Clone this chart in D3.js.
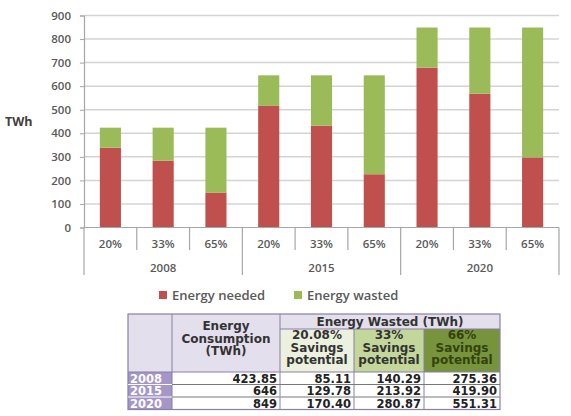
<!DOCTYPE html>
<html>
<head>
<meta charset="utf-8">
<script src="https://cdn.jsdelivr.net/npm/d3@7"></script>
<style>
  body { margin: 0; background: #fff; }
  svg { display: block; }
</style>
</head>
<body>
<svg id="chart" width="571" height="416"></svg>
<script>
// data
const years = ['2008', '2015', '2020'];
const scenarios = ['20%', '33%', '65%'];
const consumption = [423.85, 646, 849];
const wasted20 = [85.11, 129.78, 170.40];
const wasted33 = [140.29, 213.92, 280.87];
const wasted65 = [275.36, 419.90, 551.31];
const savingsHeaders = ['20.08%', '33%', '66%'];
const yTicks = [0, 100, 200, 300, 400, 500, 600, 700, 800, 900];

const red = '#c0504d';
const green = '#9bbb59';
const axisGrey = '#a6a6a6';
const textGrey = '#595959';
const chartFont = "'Open Sans', sans-serif";
const tableFont = "'DejaVu Sans', sans-serif";

const svg = d3.select('#chart');

// flatten into one bar per year/scenario
const wastedBy = [wasted20, wasted33, wasted65];
const bars = [];
years.forEach((yr, i) => {
    scenarios.forEach((sc, j) => {
        const w = wastedBy[j][i];
        bars.push({ key: yr + '_' + sc, year: yr, scenario: sc, needed: consumption[i] - w, wasted: w });
    });
});

const x = d3.scaleBand()
    .domain(bars.map(d => d.key))
    .range([84, 559])
    .paddingInner(0.6)
    .paddingOuter(0.3);

const y = d3.scaleLinear()
    .domain([0, 900])
    .range([227.5, 15.5]);

// gridlines
svg.append('g')
    .selectAll('line')
    .data(yTicks.slice(1))
    .join('line')
    .attr('x1', 84)
    .attr('x2', 559)
    .attr('y1', d => y(d))
    .attr('y2', d => y(d))
    .attr('stroke', '#d4d4d4')
    .attr('stroke-width', 1.5);

// y axis
const yAxis = svg.append('g')
    .attr('transform', 'translate(84,0)')
    .call(d3.axisLeft(y).tickValues(yTicks).tickSize(4).tickPadding(9));
yAxis.select('.domain').attr('stroke', axisGrey).attr('stroke-width', 1.2);
yAxis.selectAll('.tick line').attr('stroke', axisGrey);
yAxis.selectAll('text')
    .attr('fill', textGrey)
    .style('font-family', chartFont)
    .style('font-size', '11.5px')
    .style('font-weight', 600);

svg.append('text')
    .attr('x', 5)
    .attr('y', 126)
    .attr('fill', '#404040')
    .style('font-family', chartFont)
    .style('font-size', '12.5px')
    .style('font-weight', 700)
    .text('TWh');

// stacked bars
const barG = svg.append('g');
barG.selectAll('rect.needed')
    .data(bars)
    .join('rect')
    .attr('class', 'needed')
    .attr('x', d => x(d.key))
    .attr('width', x.bandwidth())
    .attr('y', d => y(d.needed))
    .attr('height', d => y(0) - y(d.needed))
    .attr('fill', red);
barG.selectAll('rect.wasted')
    .data(bars)
    .join('rect')
    .attr('class', 'wasted')
    .attr('x', d => x(d.key))
    .attr('width', x.bandwidth())
    .attr('y', d => y(d.needed + d.wasted))
    .attr('height', d => y(d.needed) - y(d.needed + d.wasted))
    .attr('fill', green);

// category axis
const step = x.step();
const x0 = 84;
const base = y(0);
svg.append('line')
    .attr('x1', x0).attr('x2', 559)
    .attr('y1', base).attr('y2', base)
    .attr('stroke', axisGrey).attr('stroke-width', 1.2);

const seps = d3.range(bars.length + 1);
svg.append('g')
    .selectAll('line')
    .data(seps)
    .join('line')
    .attr('x1', i => x0 + i * step)
    .attr('x2', i => x0 + i * step)
    .attr('y1', base)
    .attr('y2', i => (i % 3 === 0) ? 275 : 250)
    .attr('stroke', axisGrey)
    .attr('stroke-width', 1.2);

svg.append('g')
    .selectAll('text')
    .data(bars)
    .join('text')
    .attr('x', d => x(d.key) + x.bandwidth() / 2)
    .attr('y', 248)
    .attr('text-anchor', 'middle')
    .attr('fill', textGrey)
    .style('font-family', chartFont)
    .style('font-size', '11.5px')
    .style('font-weight', 600)
    .text(d => d.scenario);

svg.append('g')
    .selectAll('text')
    .data(years)
    .join('text')
    .attr('x', (d, i) => x0 + (i * 3 + 1.5) * step)
    .attr('y', 272)
    .attr('text-anchor', 'middle')
    .attr('fill', textGrey)
    .style('font-family', chartFont)
    .style('font-size', '11.5px')
    .style('font-weight', 600)
    .text(d => d);

// legend
const legend = [
    { label: 'Energy needed', color: red, x: 159 },
    { label: 'Energy wasted', color: green, x: 294 }
];
const lg = svg.append('g').selectAll('g')
    .data(legend)
    .join('g')
    .attr('transform', d => `translate(${d.x},295)`);
lg.append('rect')
    .attr('x', 0).attr('y', -4)
    .attr('width', 8).attr('height', 8)
    .attr('fill', d => d.color);
lg.append('text')
    .attr('x', 13)
    .attr('y', 4.5)
    .attr('fill', textGrey)
    .style('font-family', chartFont)
    .style('font-size', '13px')
    .style('font-weight', 600)
    .text(d => d.label);

// table
const cols = [128, 172, 280, 354, 424, 500];
const rows = [314, 329, 372, 384.5, 397, 409.5];
const tbl = svg.append('g');
const lavender = '#e4dfec';
const purple = '#a496c6';
const headFills = ['#ebf1de', '#c4d79b', '#77933c'];

// header block
tbl.append('rect')
    .attr('x', cols[0]).attr('y', rows[0])
    .attr('width', cols[5] - cols[0]).attr('height', rows[2] - rows[0])
    .attr('fill', lavender);
tbl.selectAll('rect.sav')
    .data(savingsHeaders)
    .join('rect')
    .attr('class', 'sav')
    .attr('x', (d, i) => cols[i + 2]).attr('y', rows[1])
    .attr('width', (d, i) => cols[i + 3] - cols[i + 2]).attr('height', rows[2] - rows[1])
    .attr('fill', (d, i) => headFills[i]);
// year column
tbl.append('rect')
    .attr('x', cols[0]).attr('y', rows[2])
    .attr('width', cols[1] - cols[0]).attr('height', rows[5] - rows[2])
    .attr('fill', purple);

// grid lines of the table
const borderCol = '#8a7fa6';
tbl.append('rect')
    .attr('x', cols[0]).attr('y', rows[0])
    .attr('width', cols[5] - cols[0]).attr('height', rows[5] - rows[0])
    .attr('fill', 'none').attr('stroke', borderCol).attr('stroke-width', 1.2);
[1, 2].forEach(c => {
    tbl.append('line')
        .attr('x1', cols[c]).attr('x2', cols[c])
        .attr('y1', rows[0]).attr('y2', rows[5])
        .attr('stroke', borderCol).attr('stroke-width', 1);
});
[3, 4].forEach(c => {
    tbl.append('line')
        .attr('x1', cols[c]).attr('x2', cols[c])
        .attr('y1', rows[1]).attr('y2', rows[5])
        .attr('stroke', borderCol).attr('stroke-width', 1);
});
tbl.append('line')
    .attr('x1', cols[2]).attr('x2', cols[5])
    .attr('y1', rows[1]).attr('y2', rows[1])
    .attr('stroke', borderCol);
[2, 3, 4].forEach(r => {
    tbl.append('line')
        .attr('x1', cols[0]).attr('x2', cols[5])
        .attr('y1', rows[r]).attr('y2', rows[r])
        .attr('stroke', r === 2 ? borderCol : '#ffffff')
        .attr('stroke-width', 1);
    if (r > 2) {
        tbl.append('line')
            .attr('x1', cols[1]).attr('x2', cols[5])
            .attr('y1', rows[r]).attr('y2', rows[r])
            .attr('stroke', '#555').attr('stroke-width', 0.8);
    }
});

function cellText(txt, cx, cy, anchor, color, size) {
    tbl.append('text')
        .attr('x', cx).attr('y', cy)
        .attr('text-anchor', anchor)
        .attr('dominant-baseline', 'central')
        .attr('fill', color)
        .style('font-family', tableFont)
        .style('font-size', size + 'px')
        .style('font-weight', 700)
        .text(txt);
}

cellText('Energy Wasted (TWh)', (cols[2] + cols[5]) / 2, (rows[0] + rows[1]) / 2 + 0.5, 'middle', '#333', 12);
['Energy', 'Consumption', '(TWh)'].forEach((t, i) => {
    cellText(t, (cols[1] + cols[2]) / 2, 326 + i * 12.5, 'middle', '#333', 12);
});
savingsHeaders.forEach((h, i) => {
    const cx = (cols[i + 2] + cols[i + 3]) / 2;
    const c = i === 2 ? '#33420f' : '#333';
    [h, 'Savings', 'potential'].forEach((t, k) => {
        cellText(t, cx, 335 + k * 12.5, 'middle', c, 12);
    });
});

const tableRows = years.map((yr, i) => [consumption[i], wasted20[i], wasted33[i], wasted65[i]]);
years.forEach((yr, i) => {
    const cy = (rows[i + 2] + rows[i + 3]) / 2 + 0.5;
    cellText(yr, cols[0] + 2, cy, 'start', '#ffffff', 11.5);
    tableRows[i].forEach((v, j) => {
        const label = j === 0 ? String(v) : v.toFixed(2);
        cellText(label, cols[j + 2] - 3, cy, 'end', '#222', 11.5);
    });
});
</script>
</body>
</html>
